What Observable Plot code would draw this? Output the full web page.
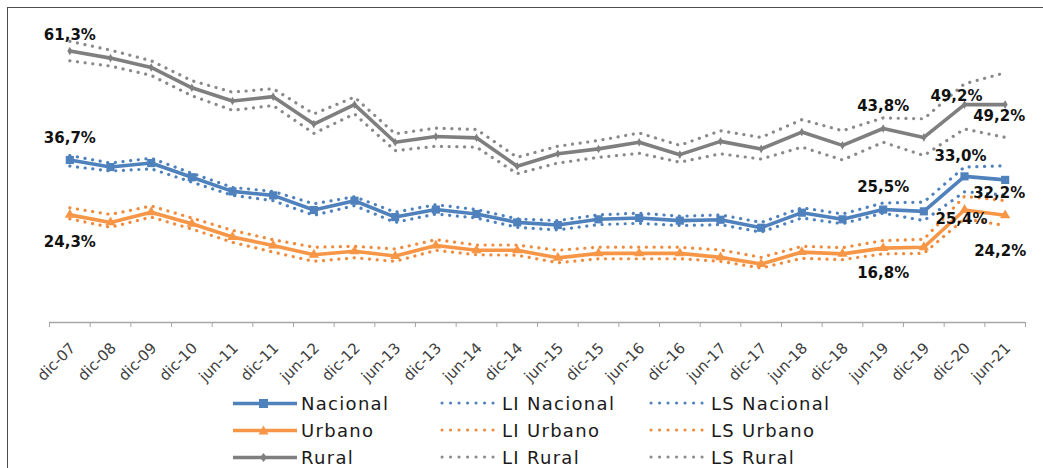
<!DOCTYPE html>
<html><head><meta charset="utf-8">
<script src="https://cdn.jsdelivr.net/npm/d3@7"></script>
<script src="https://cdn.jsdelivr.net/npm/@observablehq/plot@0.6"></script>
<style>
body{margin:0;background:#fff;font-family:"DejaVu Sans",sans-serif;}
#wrap{position:relative;width:1043px;height:468px;overflow:hidden;}
#frame{position:absolute;left:7px;top:7px;width:1100px;height:600px;border-left:1.5px solid #4d4d4d;border-top:1.5px solid #4d4d4d;}
#chart{position:absolute;left:0;top:0;}
.leg{position:absolute;display:flex;align-items:center;font-size:18px;letter-spacing:1.3px;color:#1a1a1a;height:24px;white-space:nowrap;}
.leg svg{display:block;margin-right:4px;}
</style></head><body>
<div id="wrap"><div id="frame"></div><div id="chart"></div><div id="legend"></div></div>
<script>
// ---- data ----
const labels = ["dic-07","dic-08","dic-09","dic-10","jun-11","dic-11","jun-12","dic-12","jun-13","dic-13","jun-14","dic-14","jun-15","dic-15","jun-16","dic-16","jun-17","dic-17","jun-18","dic-18","jun-19","dic-19","dic-20","jun-21"];
const nacional   = [36.7,35.1,36.0,32.8,29.6,28.7,25.4,27.5,23.8,25.5,24.5,22.6,22.0,23.3,23.6,23.0,23.2,21.4,24.8,23.3,25.5,25.1,33.0,32.2];
const liNacional = [35.3,34.2,34.7,31.7,28.7,27.5,24.2,26.4,22.6,24.5,23.6,21.5,20.9,22.1,22.4,21.9,22.1,20.4,23.6,22.3,24.7,23.0,29.5,28.8];
const lsNacional = [37.7,36.0,37.1,33.7,30.5,29.6,26.8,28.4,24.9,26.6,25.5,23.4,23.0,24.3,24.7,24.0,24.3,22.6,25.9,24.5,27.0,27.2,35.1,35.4];
const urbano     = [24.3,22.6,24.9,22.3,19.3,17.4,15.3,16.1,15.0,17.4,16.3,16.3,14.6,15.6,15.6,15.6,14.7,13.2,15.9,15.5,16.8,17.0,25.4,24.2];
const liUrbano   = [23.4,21.5,23.8,21.1,18.1,15.9,13.8,14.6,13.8,16.3,15.3,15.2,13.5,14.4,14.4,14.4,13.8,12.3,14.5,14.2,15.5,15.6,23.4,21.9];
const lsUrbano   = [25.9,24.4,26.3,23.6,20.8,18.7,17.0,17.2,16.6,18.7,17.5,17.5,16.3,17.0,17.0,17.0,16.4,14.7,17.2,16.9,18.5,18.8,28.5,27.5];
const rural      = [61.3,59.7,57.6,53.0,50.0,51.0,44.8,49.2,40.7,42.0,41.7,35.3,38.1,39.2,40.7,37.9,40.9,39.2,43.0,40.0,43.8,41.8,49.2,49.2];
const liRural    = [59.1,57.9,55.8,51.2,47.9,49.0,42.7,47.1,38.8,39.8,39.6,33.6,36.0,37.3,38.2,36.2,38.1,36.9,39.6,36.7,40.7,37.7,43.7,41.8];
const lsRural    = [63.5,61.5,59.1,54.6,52.0,52.8,47.1,50.9,42.6,43.9,43.6,37.3,39.8,41.1,42.8,40.0,43.3,41.8,45.8,43.3,46.2,46.0,53.9,56.4];
const seriesNames = ["Nacional","Urbano","Rural"];

// ---- styles ----
const C = {nac:"#4f81bd", urb:"#f79646", rur:"#7f7f7f", urbDot:"#f08a3c", rurDot:"#8a8a8a"};
const idx = labels.map((d,i)=>i);
const bounds = d3.range(-0.5, labels.length, 1);
const fmt = v => v.toFixed(1).replace(".", ",") + "%";

const dotted = (arr, color) => Plot.line(arr, {x:(d,i)=>i, y:d=>d, stroke:color, strokeWidth:3.2, strokeDasharray:"0.1 7.6", strokeLinecap:"round"});
const solid = (arr, color) => Plot.line(arr, {x:(d,i)=>i, y:d=>d, stroke:color, strokeWidth:3.6, strokeLinejoin:"round"});
const marker = (arr, color, symbol, r) => Plot.dot(arr, {x:(d,i)=>i, y:d=>d, fill:color, stroke:"none", symbol, r});
const lab = (arr, i, dx, dy) => Plot.text([i], {x:d=>d, y:d=>arr[d], text:d=>fmt(arr[d]), dx, dy, fontSize:15, fontWeight:"bold", fill:"#111", fontFamily:"DejaVu Sans"});

const chart = Plot.plot({
  width:1043, height:390,
  marginLeft:49, marginRight:18, marginTop:12, marginBottom:68,
  x:{type:"linear", domain:[-0.5, labels.length-0.5], label:null},
  y:{domain:[0,70], axis:null},
  style:{background:"transparent", fontFamily:"DejaVu Sans", overflow:"visible"},
  marks:[
    Plot.ruleY([0], {stroke:"#a6a6a6", strokeWidth:1.5}),
    Plot.axisX({ticks:bounds, tickSize:5, tickFormat:()=>"", color:"#a6a6a6", label:null}),
    Plot.text(idx, {x:d=>d, frameAnchor:"bottom", text:i=>labels[i], rotate:-45, textAnchor:"end", lineAnchor:"middle", dx:3, dy:23, fontSize:15, fill:"#404040", fontFamily:"DejaVu Sans"}),
    dotted(lsRural, C.rurDot), dotted(liRural, C.rurDot),
    dotted(lsNacional, C.nac), dotted(liNacional, C.nac),
    dotted(lsUrbano, C.urbDot), dotted(liUrbano, C.urbDot),
    solid(rural, C.rur), solid(urbano, C.urb), solid(nacional, C.nac),
    marker(rural, C.rur, "diamond", 2.6),
    marker(urbano, C.urb, "triangle", 3.8),
    marker(nacional, C.nac, "square", 4.6),
    lab(rural, 0, 0, -16), lab(nacional, 0, 0, -22), lab(urbano, 0, 0, 27),
    lab(rural, 20, 0, -22), lab(nacional, 20, 0, -22), lab(urbano, 20, 0, 25),
    lab(rural, 22, -8, -8), lab(nacional, 22, -4, -20), lab(urbano, 22, -3, 9),
    lab(rural, 23, -6, 12), lab(nacional, 23, -6, 13), lab(urbano, 23, -5, 36)
  ]
});
document.getElementById("chart").appendChild(chart);

// ---- legend ----
const colors = [C.nac, C.urb, C.rur];
const dotColors = [C.nac, C.urbDot, C.rurDot];
const rowTop = [391, 418, 445];
function sym(k, c){
  if(k===0) return `<rect x="26" y="2" width="9" height="9" fill="${c}"/>`;
  if(k===1) return `<polygon points="30.5,1.5 35.5,10.5 25.5,10.5" fill="${c}"/>`;
  return `<polygon points="30.5,2 34,6.5 30.5,11 27,6.5" fill="${c}"/>`;
}
const leg = document.getElementById("legend");
seriesNames.forEach((name, k) => {
  const a = document.createElement("div"); a.className = "leg";
  a.style.left = "233px"; a.style.top = rowTop[k] + "px";
  a.innerHTML = `<svg width="64" height="13"><line x1="0" x2="64" y1="6.5" y2="6.5" stroke="${colors[k]}" stroke-width="3.6"/>${sym(k, colors[k])}</svg><span>${name}</span>`;
  leg.appendChild(a);
  [["LI ", 440], ["LS ", 649]].forEach(([p, left]) => {
    const b = document.createElement("div"); b.className = "leg";
    b.style.left = left + "px"; b.style.top = rowTop[k] + "px";
    b.innerHTML = `<svg width="58" height="8"><line x1="2" x2="56" y1="4" y2="4" stroke="${dotColors[k]}" stroke-width="3" stroke-dasharray="0.1 8.4" stroke-linecap="round"/></svg><span>${p + name}</span>`;
    leg.appendChild(b);
  });
});
</script></body></html>
